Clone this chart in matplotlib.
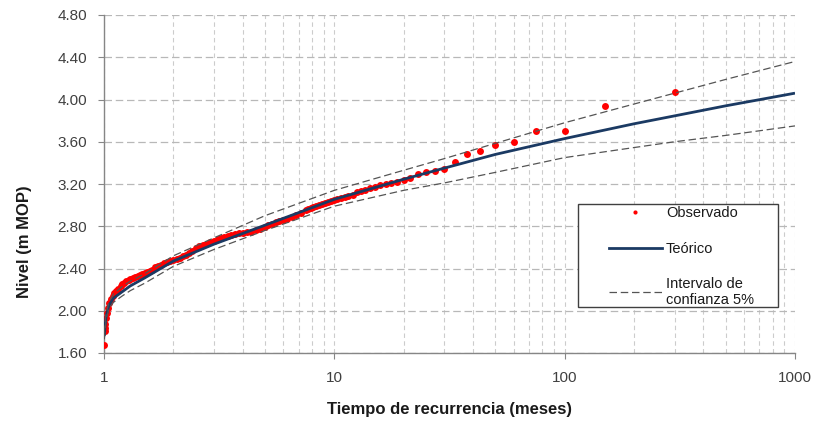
import matplotlib
matplotlib.use("Agg")
import matplotlib.pyplot as plt
from matplotlib.patches import Rectangle
from matplotlib.ticker import FixedLocator, NullFormatter
import numpy as np

# Observed levels, plotted at their return period (meses)
obs_T = [300, 150, 100, 75, 60, 50, 42.9, 37.5, 33.3, 30, 27.3, 25, 23.1, 21.4, 20,
         18.8, 17.6, 16.7, 15.8, 15.0, 14.3, 13.6, 13.0, 12.5, 12.0, 11.5, 11.1, 10.7,
         10.3, 10.0, 9.68, 9.38, 9.09, 8.82, 8.57, 8.33, 8.11, 7.89, 7.69, 7.5, 7.14,
         6.82, 6.52, 6.25, 6.0, 5.77, 5.56, 5.36, 5.17, 5.0, 4.76, 4.55, 4.35, 4.17,
         4.0, 3.85, 3.70, 3.57, 3.45, 3.33, 3.23, 3.13, 3.0, 2.88, 2.78, 2.68, 2.59,
         2.5, 2.42, 2.34, 2.27, 2.21, 2.14, 2.07, 2.0, 1.94, 1.875, 1.82, 1.76, 1.71,
         1.67, 1.62, 1.58, 1.54, 1.5, 1.46, 1.43, 1.40, 1.36, 1.33, 1.30, 1.28, 1.25,
         1.22, 1.2, 1.18, 1.15, 1.13, 1.11, 1.09, 1.07, 1.05, 1.04, 1.027, 1.020,
         1.014, 1.010, 1.007, 1.003]
obs_level = [4.07, 3.94, 3.70, 3.70, 3.60, 3.57, 3.51, 3.48, 3.41, 3.34, 3.32, 3.31,
             3.29, 3.26, 3.24, 3.22, 3.21, 3.20, 3.19, 3.17, 3.16, 3.14, 3.13, 3.12,
             3.10, 3.09, 3.08, 3.07, 3.06, 3.05, 3.04, 3.03, 3.02, 3.01, 3.00, 2.99,
             2.98, 2.97, 2.96, 2.95, 2.93, 2.91, 2.89, 2.87, 2.86, 2.85, 2.84, 2.82,
             2.81, 2.79, 2.77, 2.76, 2.75, 2.745, 2.74, 2.735, 2.73, 2.72, 2.71, 2.70,
             2.69, 2.68, 2.66, 2.65, 2.63, 2.62, 2.61, 2.59, 2.57, 2.55, 2.53, 2.52,
             2.50, 2.49, 2.48, 2.47, 2.46, 2.45, 2.43, 2.42, 2.41, 2.39, 2.38, 2.37,
             2.36, 2.35, 2.34, 2.33, 2.32, 2.31, 2.30, 2.29, 2.28, 2.26, 2.25, 2.23,
             2.21, 2.19, 2.17, 2.14, 2.11, 2.07, 2.03, 1.98, 1.93, 1.87, 1.84, 1.81,
             1.68]

# Fitted distribution and 5% confidence band
fit_T = [1.0033, 1.01, 1.02, 1.05, 1.1, 1.2, 1.3, 1.5, 2, 3, 5, 10, 20, 30, 50,
         100, 200, 300, 500, 1000]
fit_level = [1.76, 1.85, 1.94, 2.05, 2.12, 2.18, 2.235, 2.31, 2.47, 2.63, 2.81,
             3.055, 3.245, 3.35, 3.48, 3.63, 3.77, 3.845, 3.94, 4.06]
upper_level = [1.79, 1.88, 1.97, 2.08, 2.16, 2.23, 2.28, 2.35, 2.52, 2.69, 2.90,
               3.14, 3.33, 3.44, 3.585, 3.78, 3.957, 4.06, 4.19, 4.36]
lower_level = [1.73, 1.82, 1.91, 2.02, 2.08, 2.14, 2.19, 2.26, 2.42, 2.58, 2.76,
               2.99, 3.14, 3.21, 3.31, 3.45, 3.545, 3.60, 3.66, 3.75]

y_ticks = [1.60, 2.00, 2.40, 2.80, 3.20, 3.60, 4.00, 4.40, 4.80]
x_ticks = [1, 10, 100, 1000]

plt.rcParams['font.family'] = ['Liberation Sans', 'DejaVu Sans']

fig = plt.figure(figsize=(8.16, 4.21), dpi=100)
ax = fig.add_axes([104/816, 1-353/421, 691/816, 338/421])

ax.set_xscale('log')
ax.set_xlim(1, 1000)
ax.set_ylim(1.60, 4.80)

# grid: dashed, horizontal at majors, vertical at every log step
ax.yaxis.set_major_locator(FixedLocator(y_ticks))
ax.xaxis.set_major_locator(FixedLocator(x_ticks))
minor_x = [k * 10**d for d in range(0, 3) for k in range(2, 10)]
ax.xaxis.set_minor_locator(FixedLocator(minor_x))
ax.xaxis.set_minor_formatter(NullFormatter())
ax.grid(True, which='major', axis='y', color='#b8b8b8', linestyle=(0, (6, 3)), linewidth=0.9)
ax.grid(True, which='both', axis='x', color='#cccccc', linestyle=(0, (4, 3)), linewidth=0.8)
ax.set_axisbelow(True)

ax.plot(obs_T, obs_level, linestyle='none', marker='o', markersize=5,
        color='#ff0000', markeredgewidth=0, zorder=3)
ax.plot(fit_T, fit_level, color='#1b3a63', linewidth=2.0, zorder=4,
        solid_capstyle='butt')
ax.plot(fit_T, upper_level, color='#555555', linewidth=0.9, linestyle=(0, (6, 3)), zorder=4)
ax.plot(fit_T, lower_level, color='#555555', linewidth=0.9, linestyle=(0, (6, 3)), zorder=4)

ax.set_yticklabels(['%.2f' % v for v in y_ticks])
ax.set_xticklabels([str(v) for v in x_ticks])
ax.tick_params(axis='both', which='major', length=4, width=0.8, color='#868686',
               labelsize=11, labelcolor='#404040')
ax.tick_params(axis='x', which='minor', length=0)
ax.tick_params(axis='x', pad=9)
ax.tick_params(axis='y', pad=8)

for side in ['top', 'right']:
    ax.spines[side].set_visible(False)
for side in ['left', 'bottom']:
    ax.spines[side].set_color('#868686')
    ax.spines[side].set_linewidth(1.0)

ax.set_xlabel('Tiempo de recurrencia (meses)', fontsize=12, fontweight='bold',
              color='#1a1a1a', labelpad=12)
ax.set_ylabel('Nivel (m MOP)', fontsize=12, fontweight='bold', color='#1a1a1a')
ax.yaxis.set_label_coords(-0.104, 0.33)

# legend frame
ax.add_patch(Rectangle((0.6855, 0.136), 0.2895, 0.304, transform=ax.transAxes,
                       facecolor='white', edgecolor='#404040', linewidth=1.0, zorder=5))
h_obs, = ax.plot([], [], linestyle='none', marker='o', markersize=3, color='#ff0000',
                 markeredgewidth=0)
h_fit, = ax.plot([], [], color='#1b3a63', linewidth=2.0)
h_ci, = ax.plot([], [], color='#555555', linewidth=0.9, linestyle=(0, (6, 3)))
leg = ax.legend([h_obs, h_fit, h_ci], ['Observado', 'Teórico', 'Intervalo de\nconfianza 5%'],
                loc='upper left', bbox_to_anchor=(0.728, 0.44), frameon=False,
                fontsize=10.5, handlelength=3.6, handletextpad=0.3, borderpad=0.15,
                labelspacing=1.45, borderaxespad=0)
leg.set_zorder(6)
for t in leg.get_texts():
    t.set_color('#1a1a1a')

fig.savefig('out.png', dpi=100)
